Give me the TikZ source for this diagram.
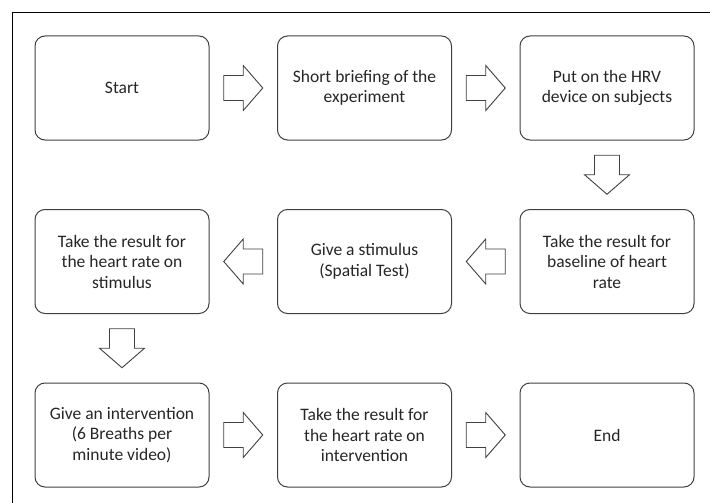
\documentclass[tikz,border=0pt]{standalone}
\usepackage{fontspec}
\setmainfont{Carlito}
\usetikzlibrary{calc}
\definecolor{boxline}{HTML}{404040}
\definecolor{txt}{HTML}{262626}
\tikzset{
  stepbox/.style={draw=boxline, line width=1pt, rounded corners=10pt,
    minimum width=174pt, minimum height=104pt, align=center, text=txt,
    font=\fontsize{17.5}{20.5}\selectfont, inner sep=0pt},
  blockarrow/.style={draw=boxline, line width=0.9pt, fill=white, line join=miter},
  frameline/.style={draw=black, line width=1.5pt}
}
\newcommand{\blockarr}[2]{%
  \draw[blockarrow, shift={#1}, rotate=#2]
    (-19.5,-12.5) -- (0,-12.5) -- (0,-22.5) -- (19.5,0) -- (0,22.5) -- (0,12.5) -- (-19.5,12.5) -- cycle;}
\begin{document}
\begin{tikzpicture}[x=1pt, y=-1pt]
\useasboundingbox (0,0) rectangle (710,503);
\draw[frameline] (12.5,503) -- (12.5,12.5) -- (710,12.5);
% row 1
\node[stepbox] (n1) at (122,88) {Start};
\node[stepbox] (n2) at (364.5,88) {Short briefing of the\\experiment};
\node[stepbox] (n3) at (607,88) {Put on the HRV\\device on subjects};
% row 2
\node[stepbox] (n4) at (607,261.5) {Take the result for\\baseline of heart\\rate};
\node[stepbox] (n5) at (364.5,261.5) {Give a stimulus\\(Spatial Test)};
\node[stepbox] (n6) at (122,261.5) {Take the result for\\the heart rate on\\stimulus};
% row 3
\node[stepbox] (n7) at (122,435) {Give an intervention\\(6 Breaths per\\minute video)};
\node[stepbox] (n8) at (364.5,435) {Take the result for\\the heart rate on\\intervention};
\node[stepbox] (n9) at (607,435) {End};
% connectors
\blockarr{($(n1.east)!0.5!(n2.west)$)}{0}
\blockarr{($(n2.east)!0.5!(n3.west)$)}{0}
\blockarr{($(n3.south)!0.5!(n4.north)$)}{-90}
\blockarr{($(n4.west)!0.5!(n5.east)$)}{180}
\blockarr{($(n5.west)!0.5!(n6.east)$)}{180}
\blockarr{($(n6.south)!0.5!(n7.north)$)}{-90}
\blockarr{($(n7.east)!0.5!(n8.west)$)}{0}
\blockarr{($(n8.east)!0.5!(n9.west)$)}{0}
\end{tikzpicture}
\end{document}
